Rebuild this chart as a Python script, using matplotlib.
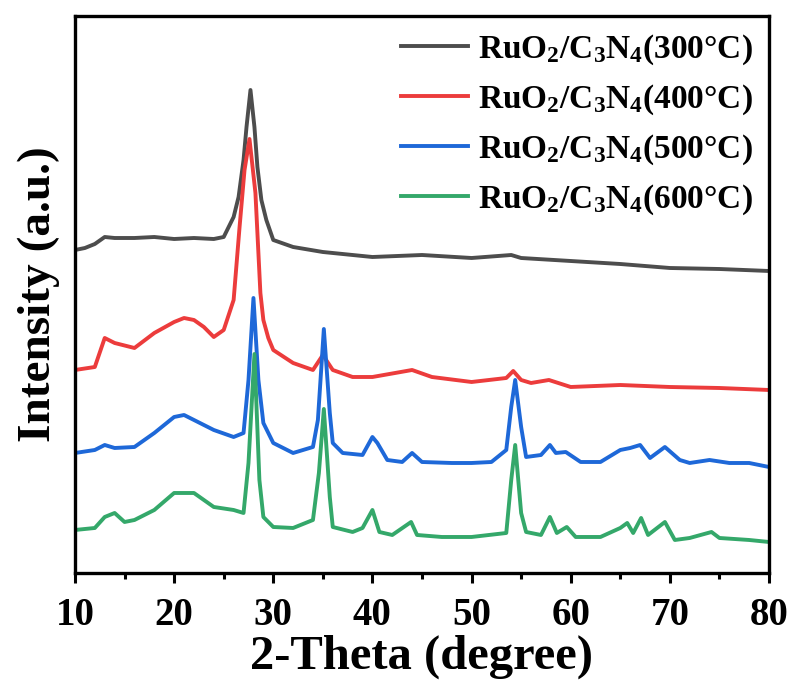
import numpy as np
import matplotlib
matplotlib.use("Agg")
import matplotlib.pyplot as plt

plt.rcParams['font.family'] = ['Liberation Serif', 'DejaVu Serif']
plt.rcParams['font.weight'] = 'bold'
plt.rcParams['mathtext.fontset'] = 'custom'
plt.rcParams['mathtext.rm'] = 'Liberation Serif:bold'
plt.rcParams['mathtext.bf'] = 'Liberation Serif:bold'
plt.rcParams['mathtext.default'] = 'bf'

# XRD patterns (2-theta in degree, intensity in a.u., already offset)
x_300 = [10, 11, 12, 13, 14, 16, 18, 20, 22, 24, 25, 26, 26.5, 27, 27.3, 27.7, 28.1, 28.4, 28.8, 29.3,
         30, 32, 35, 40, 45, 50, 54, 55, 60, 65, 70, 75, 80]
y_300 = [330, 332, 336, 343, 342, 342, 343, 341, 342, 341, 343, 363, 383, 420, 453, 490, 453, 413, 380, 360,
         340, 333, 328, 323, 325, 322, 325, 322, 319, 316, 312, 311, 309]

x_400 = [10, 12, 13, 14, 16, 18, 20, 21, 22, 23, 24, 25, 26, 26.6, 27.1, 27.6, 28.2, 28.7, 29, 29.5,
         30, 32, 34, 35, 36, 38, 40, 44, 46, 50, 53.5, 54.2, 55, 56, 57.8, 60, 65, 70, 75, 80]
y_400 = [210, 213, 242, 237, 232, 247, 258, 262, 260, 253, 243, 250, 280, 353, 410, 441, 387, 287, 260, 242,
         230, 217, 210, 225, 210, 203, 203, 210, 203, 198, 202, 209, 200, 197, 200, 193, 195, 193, 192, 190]

x_500 = [10, 12, 13, 14, 16, 18, 20, 21, 22, 24, 26, 27, 27.5, 28.0, 28.5, 29, 30, 32, 34, 34.5,
         35.1, 35.7, 36, 37, 39, 40, 40.5, 41.5, 43, 44, 45, 48, 50, 52, 53.5, 54, 54.4, 55, 55.5, 57,
         57.9, 58.5, 59.5, 61, 63, 65, 66, 67, 68, 69.5, 71, 72, 74, 76, 78, 80]
y_500 = [127, 130, 135, 132, 133, 147, 163, 165, 160, 150, 143, 147, 200, 282, 200, 157, 137, 127, 133, 160,
         251, 167, 137, 127, 125, 143, 137, 120, 118, 127, 118, 117, 117, 118, 130, 173, 200, 153, 123, 125,
         135, 127, 128, 118, 118, 130, 132, 135, 122, 133, 120, 117, 120, 117, 117, 113]

x_600 = [10, 12, 13, 14, 15, 16, 18, 20, 21, 22, 23, 24, 26, 27, 27.5, 28.1, 28.6, 29, 30, 32,
         34, 34.6, 35.1, 35.7, 36, 38, 39, 40, 40.7, 42, 43.9, 44.5, 47, 50, 53.5, 54, 54.4, 55, 55.5, 57,
         57.9, 58.6, 59.6, 60.5, 63, 65, 65.7, 66.3, 67.1, 67.8, 69.5, 70.5, 72, 74.2, 75, 78, 80]
y_600 = [50, 52, 63, 67, 58, 60, 70, 87, 87, 87, 80, 73, 70, 67, 117, 226, 100, 63, 53, 52,
         60, 107, 171, 83, 53, 48, 52, 70, 48, 45, 58, 45, 43, 43, 47, 100, 135, 67, 48, 45,
         63, 47, 53, 43, 43, 52, 57, 47, 62, 45, 58, 40, 42, 48, 42, 40, 38]

labels = [r'RuO$_2$/C$_3$N$_4$(300°C)', r'RuO$_2$/C$_3$N$_4$(400°C)',
          r'RuO$_2$/C$_3$N$_4$(500°C)', r'RuO$_2$/C$_3$N$_4$(600°C)']
colors = ['#4d4d4d', '#ec3c3c', '#1e68d8', '#34a86a']

fig = plt.figure(figsize=(7.96, 6.84), dpi=100)
ax = fig.add_axes([0.0942, 0.1623, 0.8719, 0.8143])

for xs, ys, lab, c in zip([x_300, x_400, x_500, x_600], [y_300, y_400, y_500, y_600], labels, colors):
    ax.plot(xs, ys, color=c, lw=2.8, label=lab)

ax.set_xlim(10, 80)
ax.set_ylim(7, 564)
ax.set_xticks(np.arange(10, 81, 10))
ax.set_xticks(np.arange(15, 80, 10), minor=True)
ax.set_yticks([])
ax.tick_params(axis='x', which='major', direction='out', length=7, width=2.2, labelsize=28, pad=10)
ax.tick_params(axis='x', which='minor', direction='out', length=4, width=2.2)
for s in ax.spines.values():
    s.set_linewidth(2.4)

ax.set_xlabel('2-Theta (degree)', fontsize=35, fontweight='bold', labelpad=1)
ax.set_ylabel('Intensity (a.u.)', fontsize=34, fontweight='bold', labelpad=11)

ax.legend(loc='upper right', frameon=False, handlelength=2.0,
          labelspacing=0.46, handletextpad=0.3, borderaxespad=0.2, borderpad=0.3,
          prop={'weight': 'bold', 'size': 24})

fig.savefig('out.png', dpi=100)
